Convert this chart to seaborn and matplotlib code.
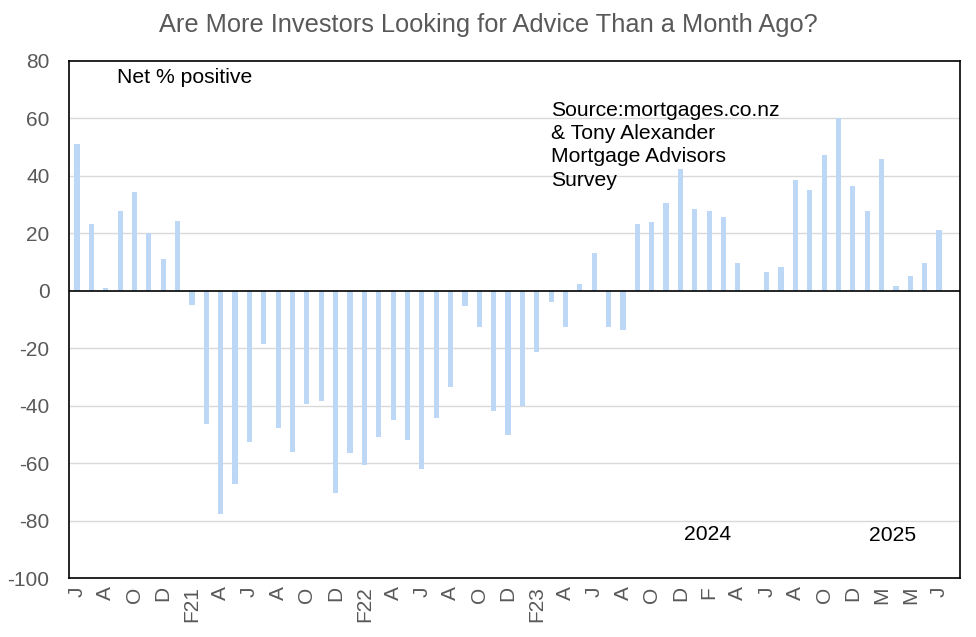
import matplotlib
matplotlib.use("Agg")
import matplotlib.pyplot as plt
import numpy as np
import pandas as pd
import seaborn as sns

# one bar per month, Jun 2020 .. Jun 2025
months = [str(p) for p in pd.period_range("2020-06", periods=61, freq="M")]

net_positive = [
    51.0, 23.0, 1.0, 27.8, 34.1, 19.9, 11.1, 24.3,
    -5.2, -46.6, -77.9, -67.3, -52.8, -18.6, -47.8, -56.0, -39.6, -38.5,
    -70.6, -56.6, -60.7, -50.9, -45.1, -52.1, -62.2, -44.4, -33.6, -5.5,
    -12.8, -42.0, -50.4, -40.2, -21.4, -4.1, -12.8,
    2.4, 13.2, -12.8, -13.6,
    23.3, 24.0, 30.6, 42.1, 28.5, 27.8, 25.7, 9.7, 0.0, 6.3, 8.3,
    38.3, 35.1, 47.3, 59.9, 36.2, 27.5, 45.6, 1.7, 5.2, 9.4, 20.9,
]

# labels shown on every second bar
tick_labels = [
    "J", "A", "O", "D",
    "F21", "A", "J", "A", "O", "D",
    "F22", "A", "J", "A", "O", "D",
    "F23", "A", "J", "A", "O", "D",
    "F", "A", "J", "A", "O", "D",
    "M", "M", "J",
]

yticks = [80, 60, 40, 20, 0, -20, -40, -60, -80, -100]

title = "Are More Investors Looking for Advice Than a Month Ago?"
source_note = "Source:mortgages.co.nz\n& Tony Alexander\nMortgage Advisors\nSurvey"

sns.set_theme(style="white")
plt.rcParams["font.family"] = ["Liberation Sans", "DejaVu Sans"]

df = pd.DataFrame({"month": months, "value": net_positive})

fig = plt.figure(figsize=(9.76, 6.37), dpi=100)
ax = fig.add_axes([0.0707, 0.0926, 0.9129, 0.8124])

sns.barplot(data=df, x="month", y="value", color="#BDD8F6", saturation=1,
            width=0.36, linewidth=0, ax=ax, zorder=2)

ax.set_ylim(-100, 80)
ax.set_xlim(-0.56, 61.46)
ax.set_yticks(yticks)
ax.set_yticklabels([str(v) for v in yticks], fontsize=15, color="#595959")
ax.set_xticks(range(0, len(months), 2))
ax.set_xticklabels(tick_labels, rotation=90, fontsize=15, color="#595959")
ax.tick_params(axis="both", length=0)
ax.tick_params(axis="y", pad=14)
ax.tick_params(axis="x", pad=6)
ax.set_xlabel("")
ax.set_ylabel("")

for v in yticks[1:-1]:
    if v != 0:
        ax.axhline(v, color="#D9D9D9", linewidth=1, zorder=1)
ax.axhline(0, color="black", linewidth=1.2, zorder=3)

for side in ax.spines.values():
    side.set_color("black")
    side.set_linewidth(1.2)

ax.text(0.054, 0.986, "Net % positive", transform=ax.transAxes,
        ha="left", va="top", fontsize=15.2, color="black")
ax.text(0.541, 0.921, source_note, transform=ax.transAxes,
        ha="left", va="top", fontsize=15.2, color="black", linespacing=1.27)
ax.text(0.7166, 0.085, "2024", transform=ax.transAxes,
        ha="center", va="center", fontsize=15.2, color="black")
ax.text(0.924, 0.083, "2025", transform=ax.transAxes,
        ha="center", va="center", fontsize=15.2, color="black")

fig.text(0.5, 0.96, title, ha="center", va="center", fontsize=18.3, color="#595959")

fig.savefig("out.png", dpi=100)
